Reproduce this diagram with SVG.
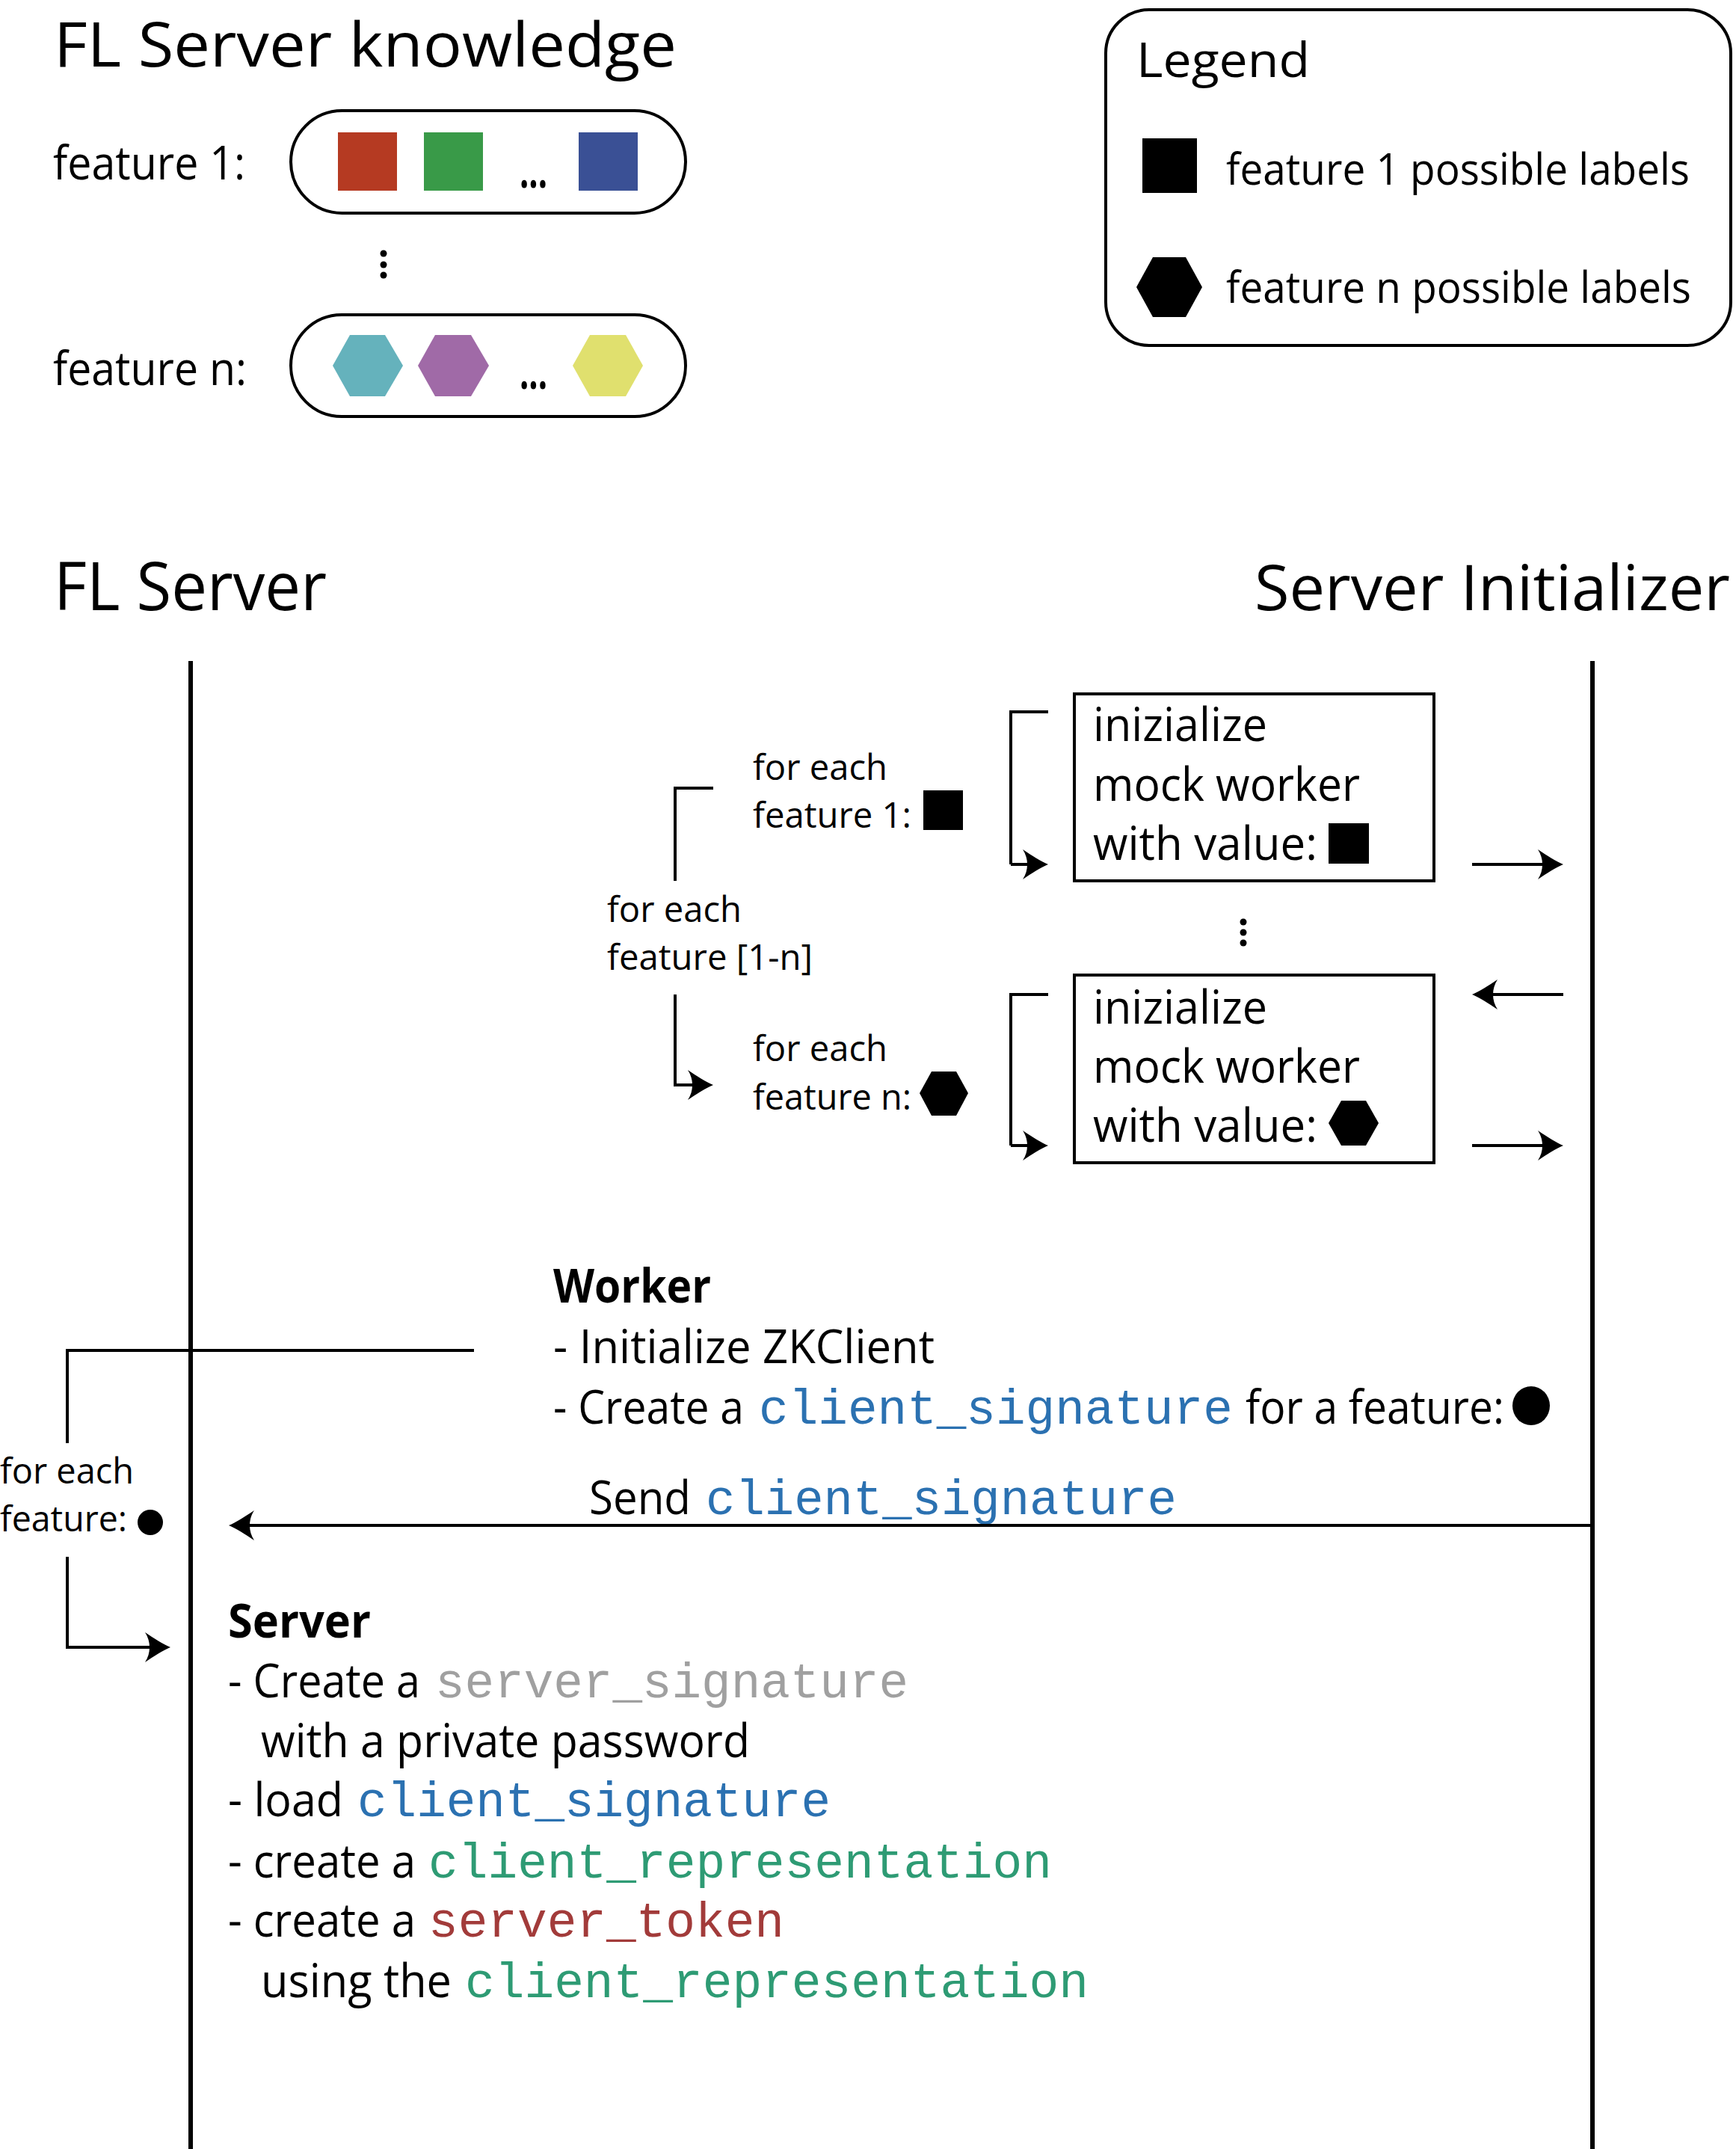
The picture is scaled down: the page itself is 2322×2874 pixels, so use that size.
<svg xmlns="http://www.w3.org/2000/svg" width="2322" height="2874" viewBox="0 0 2322 2874">
<style>
.t{font-family:"Open Sans","Noto Sans",sans-serif;fill:#000}
.b{font-weight:700}
.m{font-family:"Liberation Mono","DejaVu Sans Mono",monospace;font-size:66px}
.ln{fill:none;stroke:#000;stroke-width:4}
.life{fill:none;stroke:#000;stroke-width:6}
.pill{fill:#fff;stroke:#000;stroke-width:4}
.box{fill:#fff;stroke:#000;stroke-width:4}
.arr{fill:none;stroke:#000;stroke-width:4;marker-end:url(#ah)}
</style>
<defs>
<marker id="ah" markerUnits="userSpaceOnUse" markerWidth="44" markerHeight="44" viewBox="-38 -22 44 44" refX="-6" refY="0" orient="auto">
<path d="M0,0 C-10,-4 -22,-12 -34,-20 C-26,-8 -26,8 -34,20 C-22,12 -10,4 0,0 Z" fill="#000"/>
</marker>
</defs>
<rect width="2322" height="2874" fill="#fff"/>

<g id="knowledge">
<text class="t" x="72" y="89" font-size="83" textLength="833" lengthAdjust="spacingAndGlyphs">FL Server knowledge</text>
<text class="t" x="71" y="240" font-size="62" textLength="257" lengthAdjust="spacingAndGlyphs">feature 1:</text>
<text class="t" x="71" y="515" font-size="62" textLength="259" lengthAdjust="spacingAndGlyphs">feature n:</text>
</g>

<g id="pill-feature1">
<rect class="pill" x="389" y="148" width="528" height="137" rx="68.5"/>
<rect x="452" y="177" width="79" height="78" fill="#B53A22"/>
<rect x="567" y="177" width="79" height="78" fill="#399A48"/>
<text class="t b" x="695" y="251" font-size="64" textLength="37" lengthAdjust="spacingAndGlyphs">...</text>
<rect x="774" y="177" width="79" height="78" fill="#3A5095"/>
</g>

<g id="dots-features" fill="#000">
<circle cx="513" cy="339" r="4.5"/>
<circle cx="513" cy="354" r="4.5"/>
<circle cx="513" cy="368" r="4.5"/>
</g>

<g id="pill-featuren">
<rect class="pill" x="389" y="421" width="528" height="136" rx="68"/>
<polygon points="445,489 468,448 515,448 539,489 515,530 468,530" fill="#65B2BC"/>
<polygon points="559,489 582,448 630,448 654,489 630,530 582,530" fill="#A06AA7"/>
<text class="t b" x="695" y="520" font-size="64" textLength="37" lengthAdjust="spacingAndGlyphs">...</text>
<polygon points="766,489 789,448 837,448 860,489 837,530 789,530" fill="#E0E06E"/>
</g>

<g id="legend">
<rect class="pill" x="1479" y="13" width="836" height="449" rx="58"/>
<text class="t" x="1520" y="103" font-size="64" textLength="232" lengthAdjust="spacingAndGlyphs">Legend</text>
<rect x="1528" y="185" width="73" height="73" fill="#000"/>
<text class="t" x="1640" y="247" font-size="58" textLength="620" lengthAdjust="spacingAndGlyphs">feature 1 possible labels</text>
<polygon points="1520,384 1542,344 1586,344 1608,384 1586,424 1542,424" fill="#000"/>
<text class="t" x="1640" y="405" font-size="58" textLength="622" lengthAdjust="spacingAndGlyphs">feature n possible labels</text>
</g>

<g id="fl-server">
<text class="t" x="72" y="816" font-size="90" textLength="365" lengthAdjust="spacingAndGlyphs">FL Server</text>
</g>
<g id="server-initializer">
<text class="t" x="1678" y="816" font-size="84" textLength="636" lengthAdjust="spacingAndGlyphs">Server Initializer</text>
</g>

<g id="loop-all">
<text class="t" x="812" y="1233" font-size="48" textLength="180" lengthAdjust="spacingAndGlyphs">for each</text>
<text class="t" x="812" y="1297" font-size="48" textLength="275" lengthAdjust="spacingAndGlyphs">feature [1-n]</text>
</g>
<g id="loop-feature1">
<text class="t" x="1007" y="1043" font-size="48" textLength="180" lengthAdjust="spacingAndGlyphs">for each</text>
<text class="t" x="1007" y="1107" font-size="48" textLength="212" lengthAdjust="spacingAndGlyphs">feature 1:</text>
<rect x="1235" y="1057" width="53" height="53" fill="#000"/>
</g>
<g id="loop-featuren">
<text class="t" x="1007" y="1419" font-size="48" textLength="180" lengthAdjust="spacingAndGlyphs">for each</text>
<text class="t" x="1007" y="1484" font-size="48" textLength="212" lengthAdjust="spacingAndGlyphs">feature n:</text>
<polygon points="1230,1462 1246,1433 1279,1433 1295,1462 1279,1492 1246,1492" fill="#000"/>
</g>

<g id="mock-worker-1">
<rect class="box" x="1437" y="928" width="481" height="250"/>
<text class="t" x="1462" y="991" font-size="62" textLength="233" lengthAdjust="spacingAndGlyphs">inizialize</text>
<text class="t" x="1462" y="1071" font-size="62" textLength="357" lengthAdjust="spacingAndGlyphs">mock worker</text>
<text class="t" x="1462" y="1150" font-size="62" textLength="300" lengthAdjust="spacingAndGlyphs">with value:</text>
<rect x="1777" y="1101" width="54" height="54" fill="#000"/>
</g>
<g id="dots-workers" fill="#000">
<circle cx="1663" cy="1233" r="4.5"/>
<circle cx="1663" cy="1247" r="4.5"/>
<circle cx="1663" cy="1261" r="4.5"/>
</g>
<g id="mock-worker-n">
<rect class="box" x="1437" y="1304" width="481" height="251"/>
<text class="t" x="1462" y="1369" font-size="62" textLength="233" lengthAdjust="spacingAndGlyphs">inizialize</text>
<text class="t" x="1462" y="1448" font-size="62" textLength="357" lengthAdjust="spacingAndGlyphs">mock worker</text>
<text class="t" x="1462" y="1527" font-size="62" textLength="300" lengthAdjust="spacingAndGlyphs">with value:</text>
<polygon points="1777,1502 1794,1472 1827,1472 1844,1502 1827,1532 1794,1532" fill="#000"/>
</g>

<g id="worker">
<text class="t b" x="740" y="1742" font-size="62" textLength="211" lengthAdjust="spacingAndGlyphs">Worker</text>
<text class="t" x="740" y="1823" font-size="62" textLength="510" lengthAdjust="spacingAndGlyphs">- Initialize ZKClient</text>
<text class="t" x="740" y="1904" font-size="62" textLength="255" lengthAdjust="spacingAndGlyphs">- Create a</text>
<text class="m" x="1015" y="1904" fill="#2B71B1" textLength="634" lengthAdjust="spacingAndGlyphs">client_signature</text>
<text class="t" x="1666" y="1904" font-size="62" textLength="346" lengthAdjust="spacingAndGlyphs">for a feature:</text>
<ellipse cx="2048" cy="1880" rx="25" ry="26" fill="#000"/>
</g>

<g id="loop-each-feature">
<text class="t" x="0" y="1984" font-size="48" textLength="179" lengthAdjust="spacingAndGlyphs">for each</text>
<text class="t" x="0" y="2048" font-size="48" textLength="170" lengthAdjust="spacingAndGlyphs">feature:</text>
<circle cx="201" cy="2036" r="17" fill="#000"/>
</g>

<g id="send-label">
<text class="t" x="788" y="2025" font-size="62" textLength="136" lengthAdjust="spacingAndGlyphs">Send</text>
<text class="m" x="944" y="2025" fill="#2B71B1" textLength="630" lengthAdjust="spacingAndGlyphs">client_signature</text>
</g>

<g id="server">
<text class="t b" x="305" y="2190" font-size="62" textLength="191" lengthAdjust="spacingAndGlyphs">Server</text>
<text class="t" x="305" y="2270" font-size="62" textLength="257" lengthAdjust="spacingAndGlyphs">- Create a</text>
<text class="m" x="582" y="2270" fill="#A0A0A0" textLength="633" lengthAdjust="spacingAndGlyphs">server_signature</text>
<text class="t" x="349" y="2350" font-size="62" textLength="654" lengthAdjust="spacingAndGlyphs">with a private password</text>
<text class="t" x="305" y="2429" font-size="62" textLength="154" lengthAdjust="spacingAndGlyphs">- load</text>
<text class="m" x="478" y="2429" fill="#2B71B1" textLength="633" lengthAdjust="spacingAndGlyphs">client_signature</text>
<text class="t" x="305" y="2511" font-size="62" textLength="251" lengthAdjust="spacingAndGlyphs">- create a</text>
<text class="m" x="573" y="2511" fill="#2E9B74" textLength="834" lengthAdjust="spacingAndGlyphs">client_representation</text>
<text class="t" x="305" y="2590" font-size="62" textLength="251" lengthAdjust="spacingAndGlyphs">- create a</text>
<text class="m" x="573" y="2590" fill="#A23B3A" textLength="476" lengthAdjust="spacingAndGlyphs">server_token</text>
<text class="t" x="349" y="2671" font-size="62" textLength="255" lengthAdjust="spacingAndGlyphs">using the</text>
<text class="m" x="622" y="2671" fill="#2E9B74" textLength="834" lengthAdjust="spacingAndGlyphs">client_representation</text>
</g>

<g id="connectors">
<line class="life" x1="255" y1="884" x2="255" y2="2874"/>
<line class="life" x1="2130" y1="884" x2="2130" y2="2874"/>
<polyline class="ln" points="954,1054 903,1054 903,1178"/>
<polyline class="arr" points="903,1330 903,1451 948,1451"/>
<polyline class="ln" points="1402,952 1352,952 1352,1156"/>
<line class="arr" x1="1352" y1="1156" x2="1396" y2="1156"/>
<polyline class="ln" points="1402,1330 1352,1330 1352,1532"/>
<line class="arr" x1="1352" y1="1532" x2="1396" y2="1532"/>
<line class="arr" x1="1969" y1="1156" x2="2085" y2="1156"/>
<line class="arr" x1="2091" y1="1330" x2="1975" y2="1330"/>
<line class="arr" x1="1969" y1="1532" x2="2085" y2="1532"/>
<polyline class="ln" points="634,1806 90,1806 90,1930"/>
<polyline class="arr" points="90,2082 90,2203 222,2203"/>
<line class="arr" x1="2128" y1="2040" x2="312" y2="2040" stroke-width="5"/>
</g>
</svg>
